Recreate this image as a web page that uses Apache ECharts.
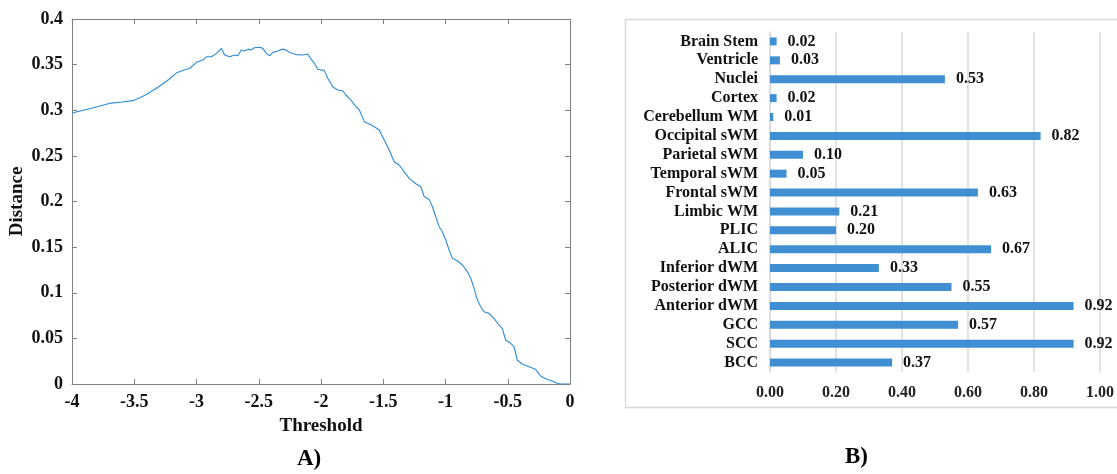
<!DOCTYPE html>
<html>
<head>
<meta charset="utf-8">
<script src="https://cdn.jsdelivr.net/npm/echarts@6/dist/echarts.min.js"></script>
<style>
html,body{margin:0;padding:0;background:#fff;}
#main{width:1117px;height:474px;}
</style>
</head>
<body>
<div id="main"></div>
<script>
// A) distance vs threshold
var thresholds=[-4,-3.85,-3.7,-3.6,-3.51,-3.45,-3.4,-3.3,-3.22,-3.16,-3.1,-3.054,-3.0,-2.948,-2.92,-2.88,-2.84,-2.8,-2.774,-2.734,
    -2.694,-2.668,-2.64,-2.614,-2.587,-2.56,-2.534,-2.494,-2.467,-2.44,-2.413,-2.387,-2.347,-2.307,-2.28,-2.253,-2.2,-2.147,-2.107,-2.08,
    -2.053,-2.026,-1.973,-1.946,-1.906,-1.866,-1.826,-1.8,-1.76,-1.72,-1.692,-1.652,-1.612,-1.572,-1.532,-1.492,-1.452,-1.412,-1.372,-1.332,
    -1.292,-1.238,-1.198,-1.171,-1.131,-1.105,-1.078,-1.051,-1.025,-0.998,-0.971,-0.945,-0.905,-0.864,-0.824,-0.797,-0.771,-0.744,-0.717,-0.691,
    -0.651,-0.611,-0.571,-0.544,-0.517,-0.477,-0.45,-0.424,-0.384,-0.33,-0.277,-0.237,-0.184,-0.13,-0.104,-0.077,0];
var distances=[0.297,0.302,0.3075,0.309,0.3105,0.314,0.3175,0.326,0.334,0.341,0.344,0.346,0.3525,0.355,0.3587,0.3587,0.3623,0.3678,0.3605,0.3587,
    0.3605,0.3598,0.366,0.365,0.367,0.366,0.3685,0.369,0.3678,0.3623,0.3598,0.3634,0.365,0.367,0.366,0.3634,0.361,0.3605,0.3616,0.356,
    0.3514,0.345,0.3434,0.335,0.3258,0.3222,0.3214,0.3167,0.3112,0.3039,0.3003,0.2875,0.285,0.282,0.2784,0.2674,0.2564,0.2436,0.24,0.2327,
    0.2254,0.2195,0.2162,0.2052,0.2023,0.1943,0.1833,0.1724,0.1669,0.1578,0.1468,0.1377,0.1351,0.1304,0.1231,0.1158,0.105,0.092,0.0847,0.0792,
    0.0774,0.072,0.0647,0.061,0.0482,0.0446,0.0409,0.0263,0.0219,0.019,0.0161,0.0088,0.0051,0.0025,0.0008,0,0];

// B) per-region values
var regions=["Brain Stem","Ventricle","Nuclei","Cortex","Cerebellum WM","Occipital sWM","Parietal sWM","Temporal sWM","Frontal sWM",
    "Limbic WM","PLIC","ALIC","Inferior dWM","Posterior dWM","Anterior dWM","GCC","SCC","BCC"];
var regionValues=[0.02,0.03,0.53,0.02,0.01,0.82,0.10,0.05,0.63,0.21,0.20,0.67,0.33,0.55,0.92,0.57,0.92,0.37];

var serif="Liberation Serif";
var axisGray="#808080";

var linePoints=thresholds.map(function(t,i){return [t,distances[i]];});

// matlab style box: ticks inside on all four sides
function boxAxis(extra){
    var a={type:"value",
        axisLine:{onZero:false,lineStyle:{color:axisGray,width:1}},
        axisTick:{inside:true,length:5,lineStyle:{color:axisGray}},
        splitLine:{show:false}};
    for(var k in extra){a[k]=extra[k];}
    return a;
}
var tickFont={fontFamily:serif,fontWeight:"bold",fontSize:18,color:"#111",margin:9};
var nameFont={fontFamily:serif,fontWeight:"bold",fontSize:19,color:"#111"};

var chart=echarts.init(document.getElementById("main"),null,{renderer:"canvas"});
chart.setOption({
    animation:false,
    backgroundColor:"#fff",
    textStyle:{fontFamily:serif},
    graphic:[
        {type:"rect",shape:{x:625.5,y:19.5,width:520,height:388},style:{fill:"none",stroke:"#d9d9d9",lineWidth:1.5},z:-1},
        {type:"text",left:297,top:448,style:{text:"A)",font:"bold 23px 'Liberation Serif'",fill:"#000"}},
        {type:"text",left:845,top:446,style:{text:"B)",font:"bold 23px 'Liberation Serif'",fill:"#000"}}
    ],
    grid:[
        {left:72,top:19,width:498,height:365},
        {left:770,top:32,width:336,height:340}
    ],
    xAxis:[
        boxAxis({gridIndex:0,min:-4,max:0,interval:0.5,
            name:"Threshold",nameLocation:"middle",nameGap:33,nameTextStyle:nameFont,
            axisLabel:tickFont}),
        boxAxis({gridIndex:0,position:"top",min:-4,max:0,interval:0.5,axisLabel:{show:false}}),
        {gridIndex:1,type:"value",min:0,max:1,interval:0.2,
            axisLine:{show:false},axisTick:{show:false},
            axisLabel:{fontFamily:serif,fontWeight:"bold",fontSize:16,color:"#222",margin:13,
                formatter:function(v){return v.toFixed(2);}},
            splitLine:{lineStyle:{color:"#d9d9d9",width:1.5}}}
    ],
    yAxis:[
        boxAxis({gridIndex:0,min:0,max:0.4,interval:0.05,
            name:"Distance",nameLocation:"middle",nameGap:45,nameTextStyle:nameFont,
            axisLabel:tickFont}),
        boxAxis({gridIndex:0,position:"right",min:0,max:0.4,interval:0.05,axisLabel:{show:false}}),
        {gridIndex:1,type:"category",data:regions,inverse:true,
            axisLine:{lineStyle:{color:"#d9d9d9",width:1.5}},
            axisTick:{show:false},
            axisLabel:{interval:0,fontFamily:serif,fontWeight:"bold",fontSize:16,color:"#111",margin:12}}
    ],
    series:[
        {type:"line",xAxisIndex:0,yAxisIndex:0,data:linePoints,showSymbol:false,
            lineStyle:{color:"#2f8ad6",width:1.1},z:3},
        {type:"bar",xAxisIndex:2,yAxisIndex:2,data:regionValues,barWidth:8,
            itemStyle:{color:"#3f8fd2"},
            label:{show:true,position:"right",distance:11,fontFamily:serif,fontWeight:"bold",fontSize:16,color:"#111",
                formatter:function(p){return p.value.toFixed(2);}}}
    ]
});
</script>
</body>
</html>
